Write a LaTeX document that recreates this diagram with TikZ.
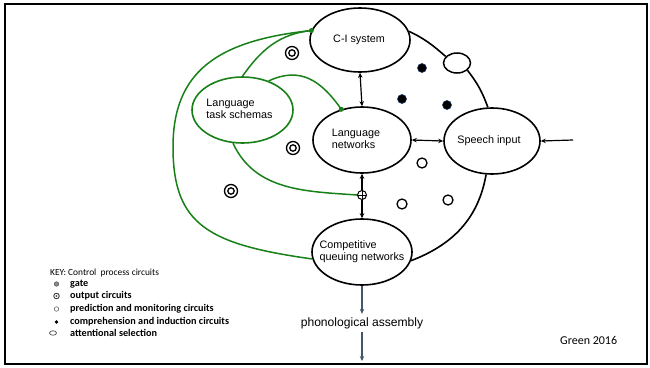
\documentclass[tikz,border=0pt]{standalone}
\usepackage{fontspec}
\setmainfont{Liberation Sans}
\newfontfamily\keyfont{Carlito}
\usetikzlibrary{shapes.geometric,arrows.meta}

\definecolor{ctrlgreen}{RGB}{24,128,24}
\definecolor{slate}{RGB}{68,84,106}
\definecolor{dotedge}{RGB}{31,56,100}

% label set in a zero-width box so the ellipse keeps its given size;
% the optional argument nudges the text sideways
\newcommand\flatlabel[2][0pt]{\makebox[0pt]{\hspace*{#1}\begin{tabular}{@{}l@{}}#2\end{tabular}}}

\tikzset{
  proc/.style={ellipse, draw, line width=1.6pt, inner sep=0pt,
    font=\fontsize{10.8}{12.6}\selectfont},
  schema/.style={proc, draw=ctrlgreen},
  attsel/.style={ellipse, draw, line width=1.5pt, inner sep=0pt,
    minimum width=27pt, minimum height=20pt},
  biarrow/.style={line width=1.2pt, {Stealth[length=5pt,width=4.5pt]}-{Stealth[length=5pt,width=4.5pt]}},
  onearrow/.style={line width=1.2pt, -{Stealth[length=5pt,width=4.5pt]}},
  outarrow/.style={line width=1.2pt, draw=slate, -{Stealth[length=5pt,width=4.5pt]}},
  ring/.style={line width=1.6pt},
  ctrl/.style={line width=1.5pt, draw=ctrlgreen},
  ctrldot/.style={circle, fill=ctrlgreen, inner sep=0pt, minimum size=5pt},
  gatesym/.style={circle, draw, line width=1pt, inner sep=0pt, minimum size=9pt},
  outcirc/.style={circle, draw, line width=1.3pt, inner sep=0pt, minimum size=13pt,
    path picture={\draw[line width=1.3pt] (path picture bounding box.center) circle (3.2pt);}},
  predcirc/.style={circle, draw, line width=1.3pt, inner sep=0pt, minimum size=10pt},
  compdot/.style={circle, fill=black, draw=dotedge, line width=0.6pt, inner sep=0pt, minimum size=9pt},
  keytxt/.style={font=\keyfont\fontsize{9.4}{10}\selectfont, anchor=west, inner sep=0pt},
  keyitem/.style={font=\keyfont\bfseries\fontsize{10.2}{11}\selectfont, anchor=west, inner sep=0pt},
}

\begin{document}
\begin{tikzpicture}[x=1pt,y=1pt]
  \useasboundingbox (0,0) rectangle (650,-367);
  % frame
  \draw[line width=2pt] (5,-4) rectangle (647,-364);

  % processing components
  \node[proc, minimum width=100pt, minimum height=64pt] (ci) at (360,-40) {\flatlabel[-2pt]{C-I system}};
  \node[proc, minimum width=98pt, minimum height=66pt] (ln) at (362,-140) {\flatlabel[-12pt]{Language\\networks}};
  \node[proc, minimum width=96pt, minimum height=66pt] (sp) at (492,-141) {\flatlabel[-6pt]{Speech input}};
  \node[proc, minimum width=100pt, minimum height=66pt] (cq) at (362,-252) {\flatlabel{Competitive\\queuing networks}};
  \node[schema, minimum width=101pt, minimum height=66pt] (lts) at (242.5,-110) {\flatlabel[-6pt]{Language\\task schemas}};
  \node[attsel] (att) at (457,-63) {};

  % outer boundary of the system
  \draw[ring] (ci.10) to[out=-25,in=139] (att.150);
  \draw[ring] (att.-35) to[out=-52,in=110] (sp.97);
  \draw[ring] (sp.-100) to[out=-100,in=21] (cq.-10);

  % gate between language networks and queuing
  \node[gatesym] (gate) at (362,-195) {};
  \draw[line width=1pt] (gate.north) -- (gate.south) (gate.west) -- (gate.east);

  % connections
  \draw[biarrow] (ci.south) -- (ln.north);
  \draw[biarrow] (ln.east) -- (sp.west);
  \draw[onearrow] (gate.north) -- (ln.south);
  \draw[onearrow] (gate.south) -- (cq.north);
  \coordinate (inp) at (573,-140);
  \draw[onearrow] (inp) -- (sp.east);

  % output
  \node[font=\fontsize{12.1}{14}\selectfont] (phon) at (362,-323) {phonological assembly};
  \coordinate (pend) at (362,-361);
  \draw[outarrow] (cq.south) -- (phon.north);
  \draw[outarrow] (phon.south) -- (pend);

  % control circuits (green)
  \coordinate (gl) at (173,-147);
  \draw[ctrl] (ci.169) .. controls +(186:95) and +(90:75) .. (gl)
              .. controls +(-90:78) and +(172:105) .. (cq.188);
  \draw[ctrl] (lts.north) to[out=55,in=186] (ci.169);
  \draw[ctrl] (lts.48) to[out=25,in=125,looseness=1.15] (ln.124);
  \draw[ctrl] (lts.-106) to[out=-65,in=176] (gate.west);
  \node[ctrldot] (d1) at (ci.169) {};
  \node[ctrldot] (d2) at (ln.124) {};

  % output circuits
  \node[outcirc] (o1) at (292,-53) {};
  \node[outcirc] (o2) at (293,-148) {};
  \node[outcirc] (o3) at (231,-191) {};

  % comprehension and induction circuits
  \node[compdot] (c1) at (422,-68) {};
  \node[compdot] (c2) at (402,-99) {};
  \node[compdot] (c3) at (447,-105) {};

  % prediction and monitoring circuits
  \node[predcirc] (p1) at (422,-163) {};
  \node[predcirc] (p2) at (402,-204) {};
  \node[predcirc] (p3) at (448,-200) {};

  % key
  \node[keytxt] (keyhead) at (50,-273) {KEY: Control\ \ process circuits};
  \node[circle, draw=black!70, fill=black!45, line width=0.5pt, inner sep=0pt, minimum size=4.5pt] (k1) at (56.5,-284) {};
  \node[circle, draw=black!75, line width=0.9pt, inner sep=0pt, minimum size=5.5pt,
        path picture={\fill[black!60] (path picture bounding box.center) circle (1.2pt);}] (k2) at (56.5,-296) {};
  \node[circle, draw=black!60, line width=0.6pt, inner sep=0pt, minimum size=4.5pt] (k3) at (56.5,-309) {};
  \node[circle, fill=black, inner sep=0pt, minimum size=3.6pt] (k4) at (56.5,-322) {};
  \node[ellipse, draw=black!70, line width=0.7pt, inner sep=0pt, minimum width=7pt, minimum height=4.5pt] (k5) at (53,-333) {};
  \node[keyitem] (t1) at (70,-284) {gate};
  \node[keyitem] (t2) at (70,-296) {output circuits};
  \node[keyitem] (t3) at (70,-309) {prediction and monitoring circuits};
  \node[keyitem] (t4) at (70,-322) {comprehension and induction circuits};
  \node[keyitem] (t5) at (70,-333) {attentional selection};

  % source
  \node[font=\keyfont\fontsize{12}{14}\selectfont, anchor=west, inner sep=0pt] (src) at (560,-340) {Green 2016};
\end{tikzpicture}
\end{document}
